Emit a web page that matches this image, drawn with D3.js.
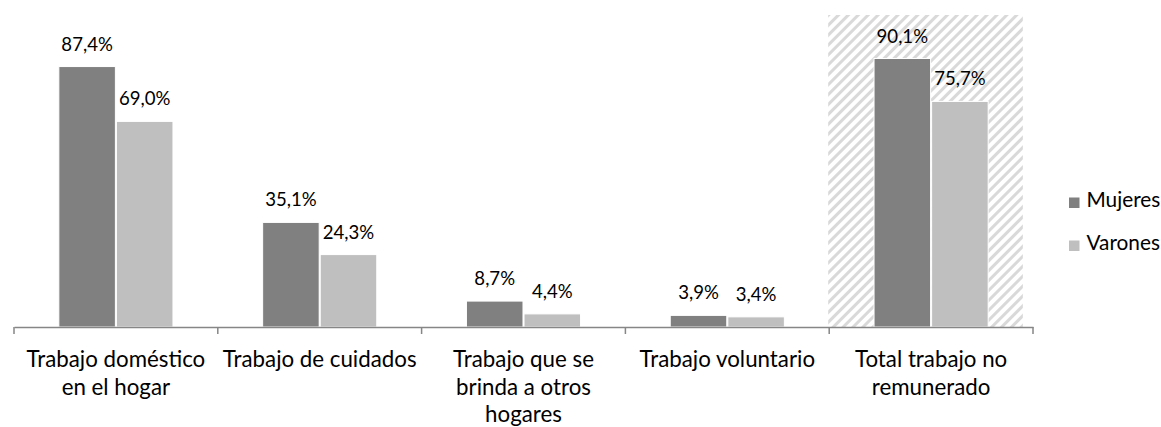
<!DOCTYPE html>
<html>
<head>
<meta charset="utf-8">
<script src="https://cdn.jsdelivr.net/npm/d3@7"></script>
<style>
  html, body { margin: 0; padding: 0; background: #fff; }
  svg { display: block; font-family: Lato, "Open Sans", sans-serif; }
</style>
</head>
<body>
<svg id="chart" width="1161" height="427"></svg>
<script>
const categories = [
  "Trabajo doméstico en el hogar",
  "Trabajo de cuidados",
  "Trabajo que se brinda a otros hogares",
  "Trabajo voluntario",
  "Total trabajo no remunerado"
];
const categoryLines = [
  ["Trabajo doméstico", "en el hogar"],
  ["Trabajo de cuidados"],
  ["Trabajo que se", "brinda a otros", "hogares"],
  ["Trabajo voluntario"],
  ["Total trabajo no", "remunerado"]
];
const seriesNames = ["Mujeres", "Varones"];
const mujeres = [87.4, 35.1, 8.7, 3.9, 90.1];
const varones = [69.0, 24.3, 4.4, 3.4, 75.7];
const highlighted = ["Total trabajo no remunerado"];
const colors = ["#808080", "#bfbfbf"];

const svg = d3.select("#chart");
const W = 1161, H = 427;
const m = { left: 14, right: 128, top: 15, axisY: 327 };

const x = d3.scaleBand().domain(categories).range([m.left, W - m.right]).paddingInner(0).paddingOuter(0);
const yMax = 104.7;
const y = d3.scaleLinear().domain([0, yMax]).range([m.axisY, m.top]);
const bw = x.bandwidth();
const inner = d3.scaleBand().domain(seriesNames).range([bw * 0.22, bw * 0.78]).paddingInner(0.018).paddingOuter(0);

const fmt = v => d3.format(".1f")(v).replace(".", ",") + "%";

// hatch pattern
const defs = svg.append("defs");
const pat = defs.append("pattern")
  .attr("id", "hatch").attr("patternUnits", "userSpaceOnUse")
  .attr("width", 7).attr("height", 7)
  .attr("patternTransform", "rotate(45)");
pat.append("rect").attr("width", 7).attr("height", 7).attr("fill", "#ffffff");
pat.append("rect").attr("x", 0).attr("y", 0).attr("width", 3).attr("height", 7).attr("fill", "#d9d9d9");

svg.append("g").selectAll("rect").data(highlighted).join("rect")
  .attr("x", d => x(d) - 1)
  .attr("y", y(yMax))
  .attr("width", bw * 0.955)
  .attr("height", y(0) - y(yMax))
  .attr("fill", "url(#hatch)");

const data = categories.map((c, i) => ({ c, vals: [mujeres[i], varones[i]] }));

const groups = svg.append("g").selectAll("g").data(data).join("g")
  .attr("transform", d => `translate(${x(d.c)},0)`);

groups.selectAll("rect").data(d => d.vals.map((v, j) => ({ v, s: seriesNames[j], j }))).join("rect")
  .attr("x", d => inner(d.s))
  .attr("y", d => y(d.v))
  .attr("width", inner.bandwidth())
  .attr("height", d => y(0) - y(d.v))
  .attr("fill", d => colors[d.j])
  .attr("stroke", "#ffffff").attr("stroke-width", 1);

groups.selectAll("text.val").data(d => d.vals.map((v, j) => ({ v, s: seriesNames[j] }))).join("text")
  .attr("class", "val")
  .attr("x", d => inner(d.s) + inner.bandwidth() / 2)
  .attr("y", d => y(d.v) - 16)
  .attr("text-anchor", "middle")
  .attr("font-size", 18.6)
  .attr("fill", "#000")
  .text(d => fmt(d.v));

// axis
const axis = d3.axisBottom(x).tickSize(0).tickFormat("");
const ax = svg.append("g").attr("transform", `translate(0,${m.axisY})`).call(axis);
ax.select(".domain").attr("stroke", "#868686").attr("stroke-width", 1.5);
const tickPos = categories.map(c => x(c)).concat([x(categories[categories.length - 1]) + bw]);
ax.append("g").selectAll("line").data(tickPos).join("line")
  .attr("x1", d => d).attr("x2", d => d).attr("y1", 0).attr("y2", 7)
  .attr("stroke", "#868686").attr("stroke-width", 1.5);

// category labels
const lbl = svg.append("g").selectAll("text").data(categories).join("text")
  .attr("text-anchor", "middle")
  .attr("font-size", 22.3)
  .attr("fill", "#000")
  .attr("transform", d => `translate(${x(d) + bw / 2},${m.axisY + 40})`);
lbl.selectAll("tspan").data((d, i) => categoryLines[i]).join("tspan")
  .attr("x", 0).attr("dy", (d, i) => i === 0 ? 0 : 27.5)
  .text(d => d);

// legend
const leg = svg.append("g").selectAll("g").data(seriesNames).join("g")
  .attr("transform", (d, i) => `translate(1069,${197.5 + i * 43})`);
leg.append("rect").attr("width", 10.5).attr("height", 10.5).attr("fill", (d, i) => colors[i]);
leg.append("text").attr("x", 17.5).attr("y", 9.5).attr("font-size", 20.8).attr("fill", "#000").text(d => d);
</script>
</body>
</html>
